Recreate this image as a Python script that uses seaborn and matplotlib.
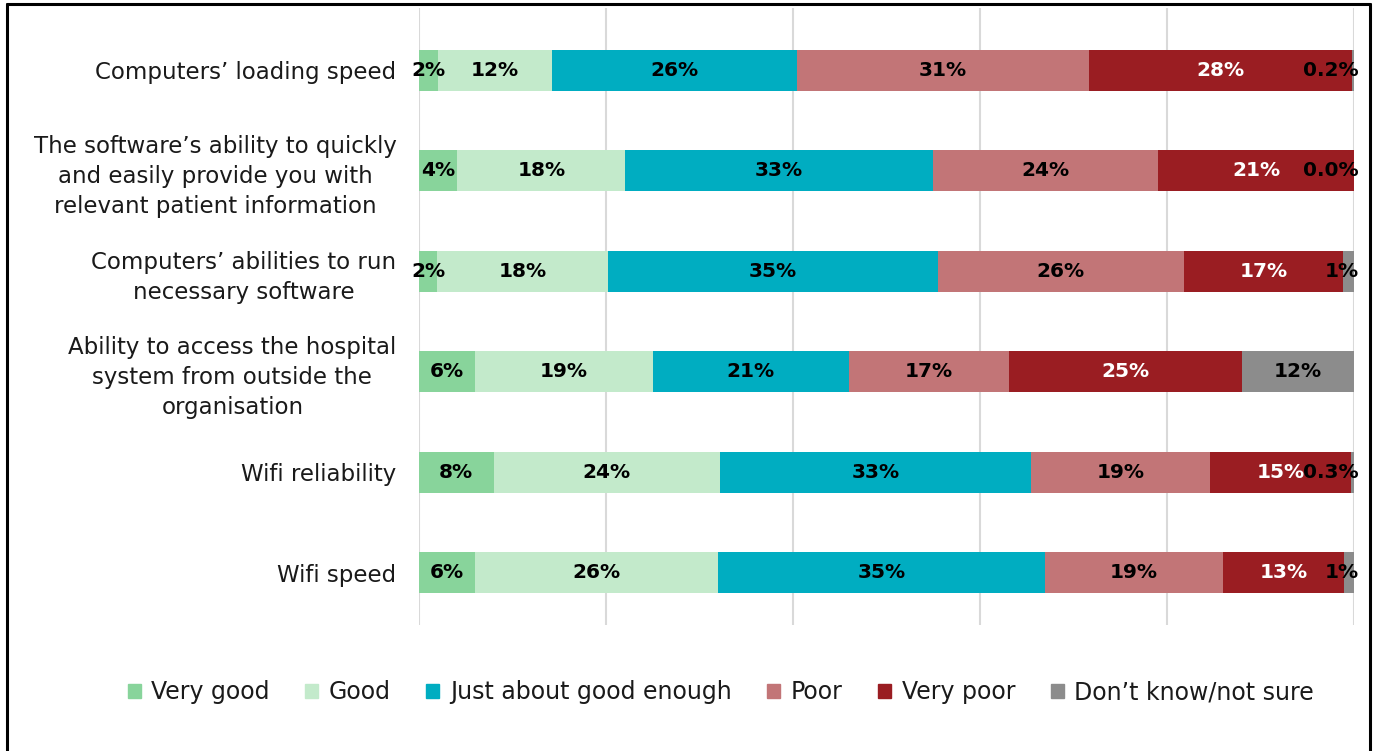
import numpy as np
import pandas as pd
import matplotlib
matplotlib.use("Agg")
import matplotlib.pyplot as plt
import seaborn as sns

categories = [
    "Computers\u2019 loading speed",
    "The software\u2019s ability to quickly\nand easily provide you with\nrelevant patient information",
    "Computers\u2019 abilities to run\nnecessary software",
    "Ability to access the hospital\nsystem from outside the\norganisation",
    "Wifi reliability",
    "Wifi speed",
]
series = ["Very good", "Good", "Just about good enough", "Poor", "Very poor", "Don\u2019t know/not sure"]
very_good = [2.1, 4.1, 2.0, 6.0, 8.0, 6.0]
good = [12.1, 18.0, 18.2, 19.0, 24.2, 26.0]
just_enough = [26.2, 32.9, 35.3, 21.0, 33.3, 35.0]
poor = [31.3, 24.1, 26.3, 17.1, 19.1, 19.0]
very_poor = [28.1, 20.9, 17.1, 24.9, 15.1, 13.0]
dont_know = [0.2, 0.0, 1.1, 12.0, 0.3, 1.0]
colors = ["#88D49B", "#C3EACB", "#00ADC1", "#C27577", "#9A1D22", "#8C8C8C"]
label_colors = ["black", "black", "black", "black", "white", "black"]

sns.set_theme(style="white")
plt.rcParams["font.family"] = ["DejaVu Sans"]

values = np.array([very_good, good, just_enough, poor, very_poor, dont_know])
cum = np.cumsum(values, axis=0)

fig = plt.figure(figsize=(13.73, 7.51), dpi=100)
ax = fig.add_axes([0.305, 0.168, 0.681, 0.821])

# stacked bars via overlaying cumulative totals (largest first)
for i in range(len(series) - 1, -1, -1):
    df = pd.DataFrame({"cat": categories, "val": cum[i]})
    sns.barplot(data=df, x="val", y="cat", orient="h", color=colors[i],
                width=0.41, ax=ax, saturation=1, linewidth=0, zorder=3 + (len(series) - i) * 0.01)

ax.set_xlim(0, 100)
ax.set_ylim(5.517, -0.617)
for xv in range(0, 101, 20):
    ax.axvline(xv, color="#D9D9D9", lw=1.5, zorder=1)
for s in ax.spines.values():
    s.set_visible(False)
ax.set_xticks([])
ax.set_xlabel("")
ax.set_ylabel("")
ax.tick_params(axis="y", length=0, pad=16)
ax.set_yticklabels(categories, fontsize=16.5, multialignment="center", color="#1a1a1a",
                   linespacing=1.38)

def fmt(v):
    return f"{v:.1f}%" if v < 1 else f"{v:.0f}%"

for j in range(len(categories)):
    for i in range(len(series)):
        v = values[i, j]
        start = cum[i, j] - v
        if i == len(series) - 1 and v < 5:
            ax.text(100.55, j, fmt(v), ha="right", va="center", fontsize=14.5,
                    fontweight="bold", color=label_colors[i], zorder=10)
        else:
            ax.text(start + v / 2, j, fmt(v), ha="center", va="center", fontsize=14.5,
                    fontweight="bold", color=label_colors[i], zorder=10)

handles = [plt.Rectangle((0, 0), 1, 1, color=c) for c in colors]
fig.legend(handles, series, loc="center", bbox_to_anchor=(0.525, 0.078), ncol=6,
           frameon=False, fontsize=17, handlelength=0.55, handleheight=0.55,
           columnspacing=1.5, handletextpad=0.45, labelcolor="#1a1a1a")

# outer frame
fig.add_artist(plt.Line2D([0.0051, 0.0051], [0, 0.995], color="black", lw=2.2, transform=fig.transFigure))
fig.add_artist(plt.Line2D([0.0051, 0.9978], [0.995, 0.995], color="black", lw=2.2, transform=fig.transFigure))
fig.add_artist(plt.Line2D([0.9978, 0.9978], [0, 0.995], color="black", lw=2.2, transform=fig.transFigure))

fig.savefig("out.png", dpi=100)
